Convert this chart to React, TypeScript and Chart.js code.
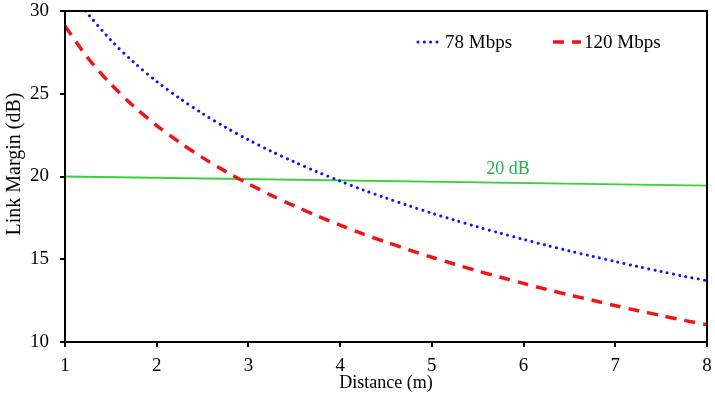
import React, { useEffect, useRef } from "react";
import { Chart, registerables } from "chart.js";

Chart.register(...registerables);

// Link margin versus distance for two data rates, with a 20 dB reference line.
const distances78 = [1.225, 1.25, 1.5, 1.75, 2, 2.25, 2.5, 2.75, 3, 3.25, 3.5, 3.75, 4, 4.25, 4.5, 4.75, 5, 5.25, 5.5, 5.75, 6, 6.25, 6.5, 6.75, 7, 7.25, 7.5, 7.75, 8];
const margin78 = [30.0, 29.82, 28.24, 26.9, 25.74, 24.72, 23.8, 22.97, 22.22, 21.52, 20.88, 20.28, 19.72, 19.19, 18.7, 18.23, 17.78, 17.36, 16.95, 16.57, 16.2, 15.84, 15.5, 15.18, 14.86, 14.55, 14.26, 13.97, 13.7];

const distances120 = [1, 1.25, 1.5, 1.75, 2, 2.25, 2.5, 2.75, 3, 3.25, 3.5, 3.75, 4, 4.25, 4.5, 4.75, 5, 5.25, 5.5, 5.75, 6, 6.25, 6.5, 6.75, 7, 7.25, 7.5, 7.75, 8];
const margin120 = [29.1, 27.16, 25.58, 24.24, 23.08, 22.06, 21.14, 20.31, 19.56, 18.86, 18.22, 17.62, 17.06, 16.53, 16.04, 15.57, 15.12, 14.7, 14.29, 13.91, 13.54, 13.18, 12.84, 12.52, 12.2, 11.89, 11.6, 11.31, 11.04];

const thresholdDistances = [1, 8];
const thresholdMargin = [20.0, 19.45];
const thresholdLabel = "20 dB";
const thresholdLabelAt = { x: 5.83, y: 20.45 };

const seriesNames = ["78 Mbps", "120 Mbps"];
const xTitle = "Distance (m)";
const yTitle = "Link Margin (dB)";

const SERIF = "'Liberation Serif', 'Times New Roman', serif";
const BLUE = "#0a14f0";
const RED = "#f01414";
const GREEN_LINE = "#3ccf3c";
const GREEN_TEXT = "#22b14c";

const toPoints = (xs: number[], ys: number[]) => xs.map((x, i) => ({ x, y: ys[i] }));

const decorations = {
  id: "decorations",
  afterDatasetsDraw(chart: any) {
    const { ctx, chartArea, scales } = chart;
    const { left, top, right, bottom } = chartArea;
    ctx.save();

    // plot frame
    ctx.strokeStyle = "#000";
    ctx.lineWidth = 2;
    ctx.setLineDash([]);
    ctx.strokeRect(left, top, right - left, bottom - top);

    // reference line label
    ctx.fillStyle = GREEN_TEXT;
    ctx.font = `18px ${SERIF}`;
    ctx.textAlign = "center";
    ctx.textBaseline = "middle";
    ctx.fillText(
      thresholdLabel,
      scales.x.getPixelForValue(thresholdLabelAt.x),
      scales.y.getPixelForValue(thresholdLabelAt.y)
    );

    // legend
    const legendY = top + 31;
    const items = [
      { x0: 418, x1: 442, color: BLUE, dash: [0.01, 6.3], width: 3, cap: "round", text: seriesNames[0] },
      { x0: 553, x1: 581, color: RED, dash: [11, 8], width: 3.5, cap: "butt", text: seriesNames[1] },
    ];
    for (const it of items) {
      ctx.beginPath();
      ctx.strokeStyle = it.color;
      ctx.lineWidth = it.width;
      ctx.lineCap = it.cap;
      ctx.setLineDash(it.dash);
      ctx.moveTo(it.x0, legendY);
      ctx.lineTo(it.x1, legendY);
      ctx.stroke();
      ctx.setLineDash([]);
      ctx.fillStyle = "#000";
      ctx.font = `19px ${SERIF}`;
      ctx.textAlign = "left";
      ctx.textBaseline = "middle";
      ctx.fillText(it.text, it.x1 + 3, legendY + 1);
    }

    // y axis title
    ctx.translate(15, 164);
    ctx.rotate(-Math.PI / 2);
    ctx.fillStyle = "#000";
    ctx.font = `20px ${SERIF}`;
    ctx.textAlign = "center";
    ctx.textBaseline = "middle";
    ctx.fillText(yTitle, 0, 0);
    ctx.restore();
  },
};

export default function App() {
  const canvasRef = useRef<HTMLCanvasElement | null>(null);

  useEffect(() => {
    if (!canvasRef.current) return;
    const chart = new Chart(canvasRef.current, {
      type: "line",
      data: {
        datasets: [
          {
            label: seriesNames[0],
            data: toPoints(distances78, margin78),
            borderColor: BLUE,
            borderWidth: 3,
            borderDash: [0.01, 6.3],
            borderCapStyle: "round",
            pointRadius: 0,
            tension: 0.3,
            fill: false,
          },
          {
            label: seriesNames[1],
            data: toPoints(distances120, margin120),
            borderColor: RED,
            borderWidth: 3.5,
            borderDash: [11, 8],
            pointRadius: 0,
            tension: 0.3,
            fill: false,
          },
          {
            label: thresholdLabel,
            data: toPoints(thresholdDistances, thresholdMargin),
            borderColor: GREEN_LINE,
            borderWidth: 1.8,
            pointRadius: 0,
            fill: false,
          },
        ],
      },
      plugins: [decorations],
      options: {
        responsive: false,
        animation: false,
        layout: { padding: { top: 11, right: 8, left: 0, bottom: 0 } },
        plugins: {
          legend: { display: false },
          tooltip: { enabled: false },
        },
        scales: {
          x: {
            type: "linear",
            min: 1,
            max: 8,
            ticks: {
              stepSize: 1,
              color: "#000",
              font: { family: SERIF, size: 19 },
              padding: 8,
              maxRotation: 0,
            },
            grid: {
              display: true,
              drawOnChartArea: false,
              drawTicks: true,
              tickLength: 5,
              color: "#000",
              lineWidth: 2,
            },
            border: { display: true, color: "#000", width: 2 },
            title: {
              display: true,
              text: xTitle,
              color: "#000",
              font: { family: SERIF, size: 18 },
              padding: { top: 0, bottom: 4 },
            },
            afterFit: (scale: any) => {
              scale.height = 56;
              scale.paddingLeft = 0;
              scale.paddingRight = 0;
            },
          },
          y: {
            type: "linear",
            min: 10,
            max: 30,
            ticks: {
              stepSize: 5,
              color: "#000",
              font: { family: SERIF, size: 19 },
              padding: 11,
            },
            grid: {
              display: true,
              drawOnChartArea: false,
              drawTicks: true,
              tickLength: 5,
              color: "#000",
              lineWidth: 2,
            },
            border: { display: true, color: "#000", width: 2 },
            afterFit: (scale: any) => {
              scale.width = 65;
              scale.paddingTop = 0;
              scale.paddingBottom = 0;
            },
          },
        },
      },
    } as any);
    return () => chart.destroy();
  }, []);

  return (
    <div style={{ position: "fixed", left: 0, top: 0, width: 715, height: 398, background: "#fff" }}>
      <canvas ref={canvasRef} width={715} height={398} />
    </div>
  );
}
